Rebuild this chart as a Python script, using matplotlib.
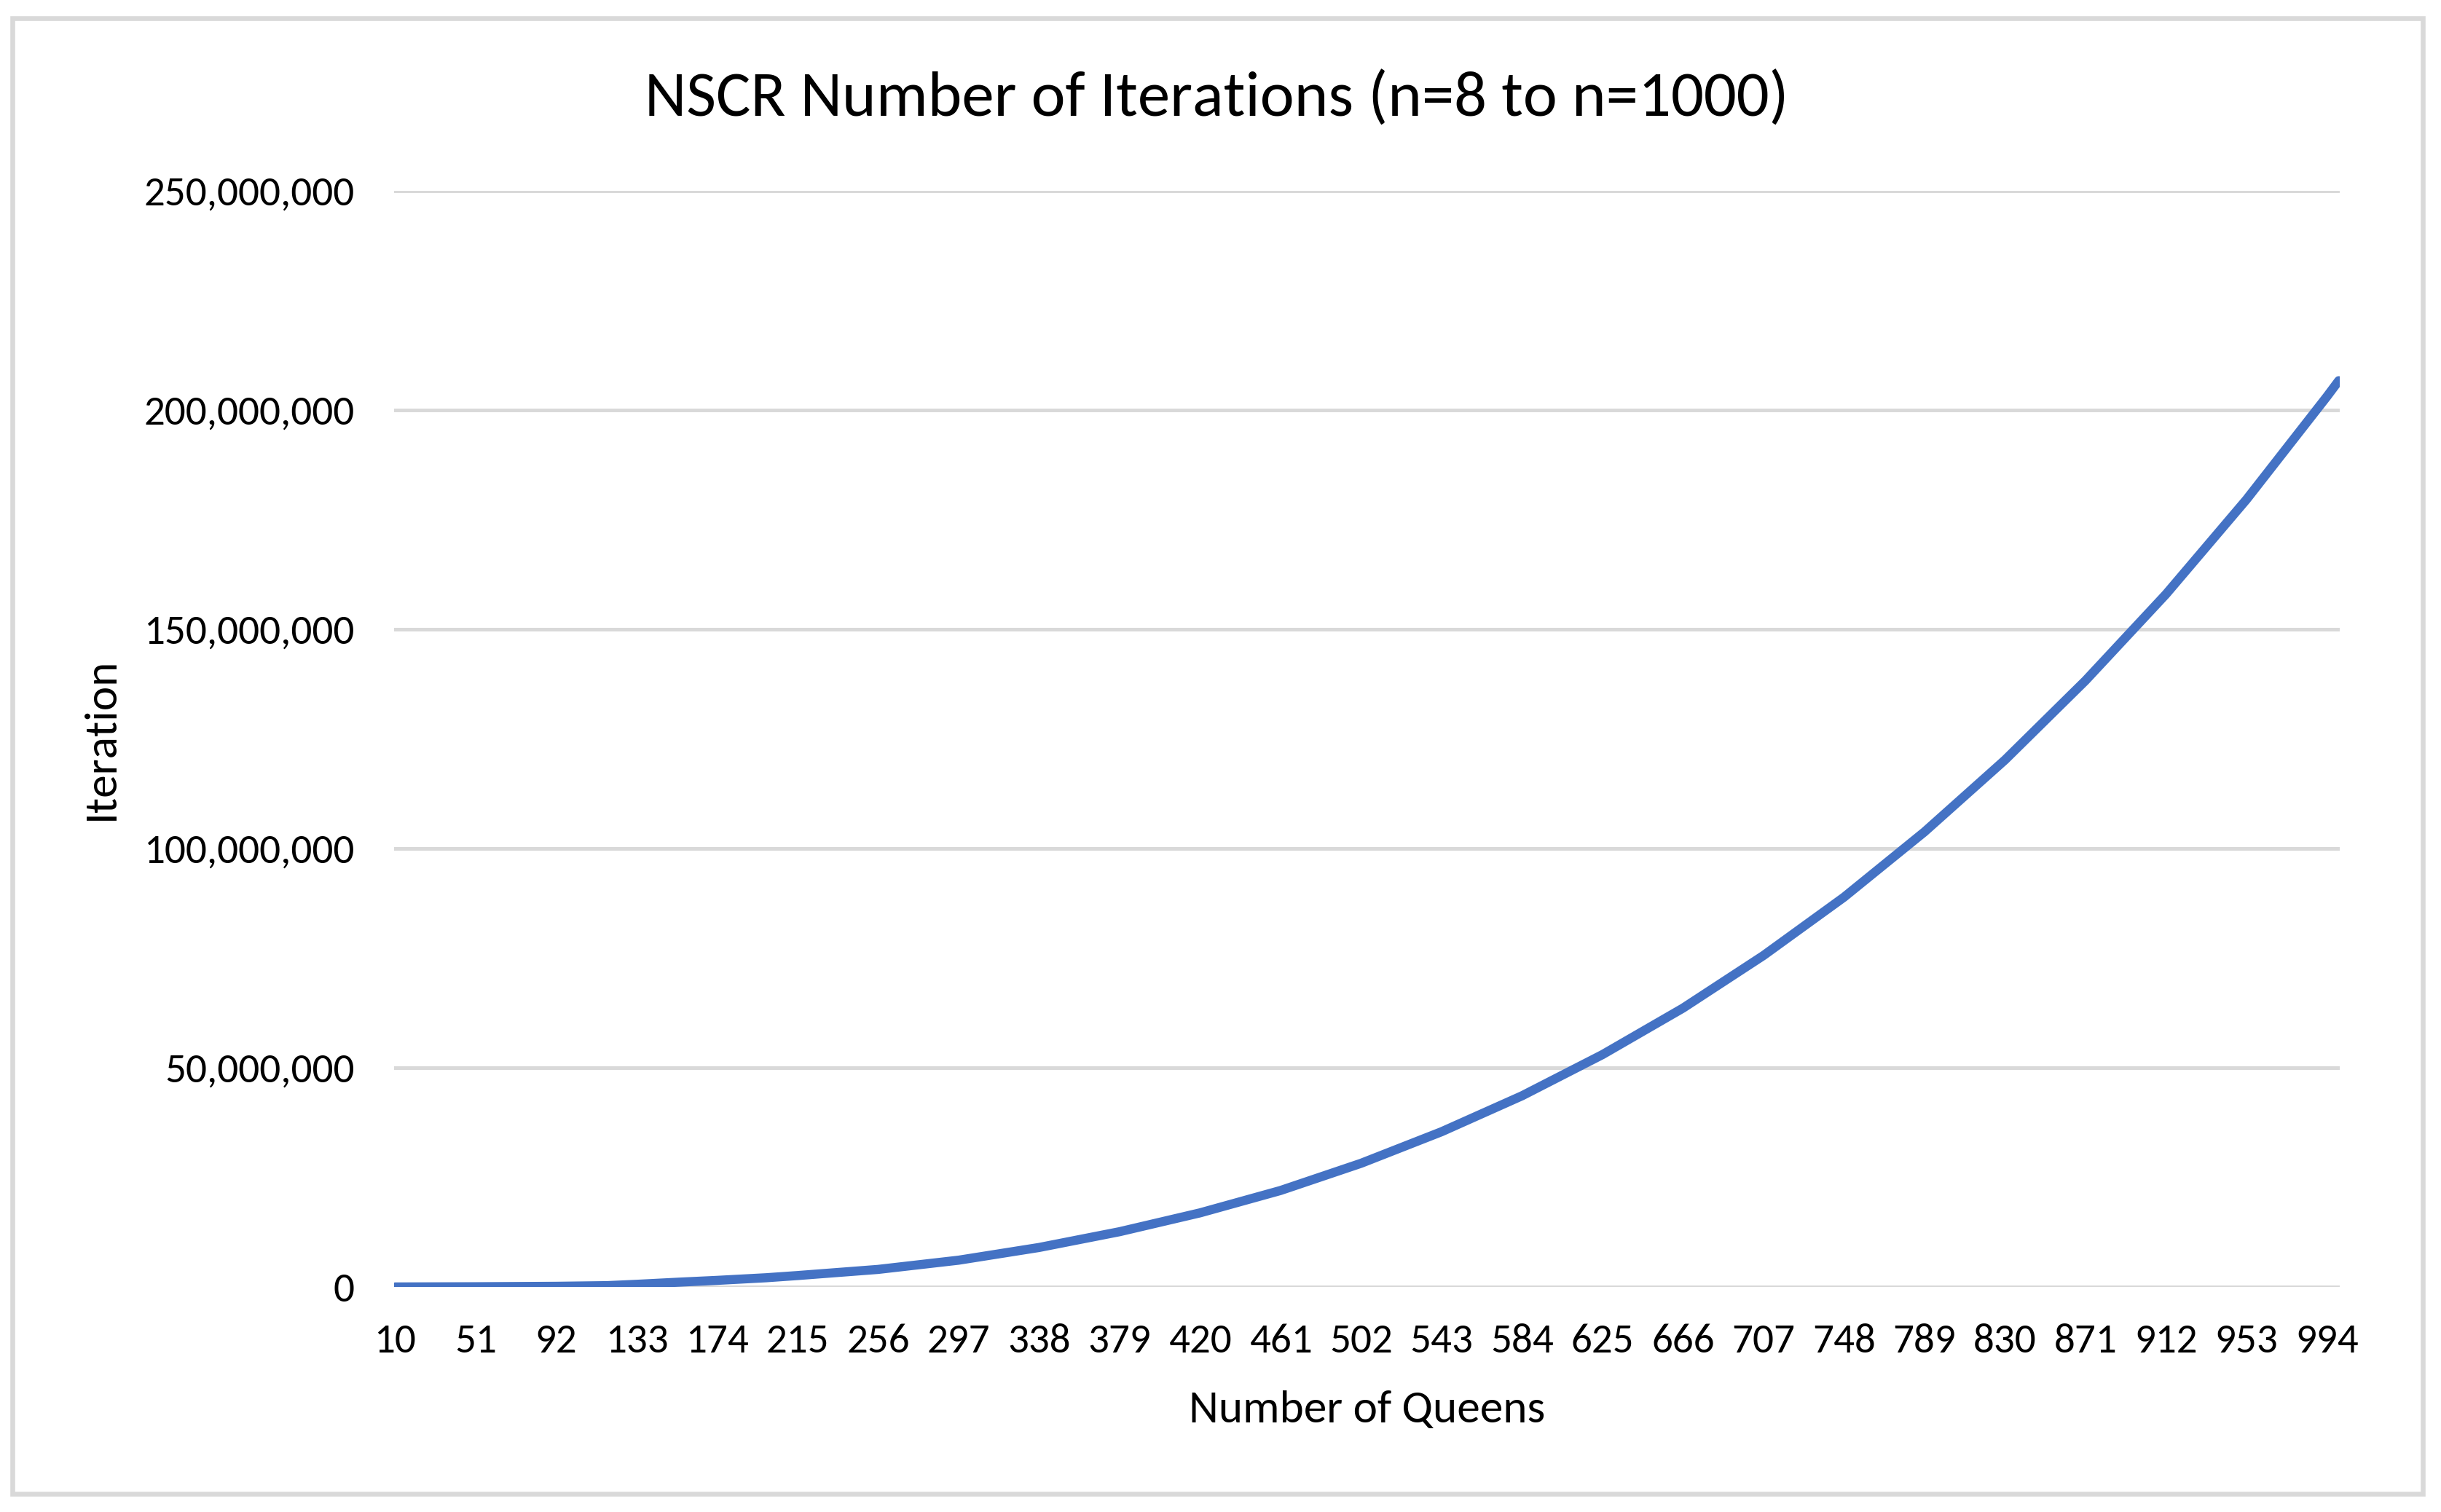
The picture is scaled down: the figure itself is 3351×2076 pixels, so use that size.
import matplotlib
matplotlib.use("Agg")
import matplotlib.pyplot as plt
from matplotlib.patches import Rectangle
from matplotlib.ticker import FuncFormatter

# ---- data ----
queens = [10, 51, 92, 118, 133, 155, 174, 199, 215, 256, 297, 338, 379, 420,
          461, 502, 543, 584, 625, 666, 707, 748, 789, 830, 871, 912, 953,
          994, 1000]
iterations = [0, 50_000, 150_000, 300_000, 600_000, 1_100_000, 1_500_000,
              2_100_000, 2_600_000, 4_000_000, 6_100_000, 9_000_000,
              12_600_000, 16_900_000, 22_000_000, 28_200_000, 35_400_000,
              43_600_000, 53_000_000, 63_600_000, 75_600_000, 88_900_000,
              103_800_000, 120_200_000, 138_300_000, 158_000_000,
              179_600_000, 203_100_000, 206_700_000]
x_tick_labels = [10, 51, 92, 133, 174, 215, 256, 297, 338, 379, 420, 461, 502,
                 543, 584, 625, 666, 707, 748, 789, 830, 871, 912, 953, 994]
y_ticks = [0, 50_000_000, 100_000_000, 150_000_000, 200_000_000, 250_000_000]

title = "NSCR Number of Iterations (n=8 to n=1000)"
x_label = "Number of Queens"
y_label = "Iteration"

FONT = ["Carlito", "Lato", "DejaVu Sans"]
plt.rcParams["font.family"] = FONT

W, H = 3351, 2076
fig = plt.figure(figsize=(W / 100, H / 100), dpi=100)
fig.patch.set_facecolor("white")

left, right, top, bottom = 541, 3212, 262, 1767
ax = fig.add_axes([left / W, 1 - bottom / H, (right - left) / W, (bottom - top) / H])

ax.plot(queens, iterations, color="#4472C4", linewidth=9.0,
        solid_capstyle="round", solid_joinstyle="round", zorder=3)

ax.set_xlim(9.5, 1000.5)
ax.set_ylim(0, 250_000_000)
ax.set_yticks(y_ticks)
ax.yaxis.set_major_formatter(FuncFormatter(lambda v, p: f"{v:,.0f}"))
ax.set_xticks(x_tick_labels)
ax.set_xticklabels([str(v) for v in x_tick_labels])

ax.grid(axis="y", color="#D9D9D9", linewidth=3.6, zorder=1)
ax.grid(axis="x", visible=False)
for s in ax.spines.values():
    s.set_visible(False)
ax.tick_params(axis="both", length=0, labelsize=41, colors="black")
ax.tick_params(axis="y", pad=39)
ax.tick_params(axis="x", pad=36)

fig.text(1670 / W, 1 - 160 / H, title, ha="center", va="baseline",
         fontsize=64, color="black")
fig.text((left + right) / 2 / W, 1 - 1953 / H, x_label, ha="center", va="baseline",
         fontsize=45.5, color="black")
fig.text(139 / W, 1 - 1014 / H, y_label, ha="center", va="center",
         rotation=90, fontsize=45.5, color="black")

fig.patches.append(Rectangle((16.5 / W, 1 - 2051 / H), (3325.6 - 16.5) / W,
                             (2051 - 24.5) / H, transform=fig.transFigure,
                             fill=False, edgecolor="#D9D9D9", linewidth=4.75))

fig.savefig("out.png", dpi=100, facecolor="white")
